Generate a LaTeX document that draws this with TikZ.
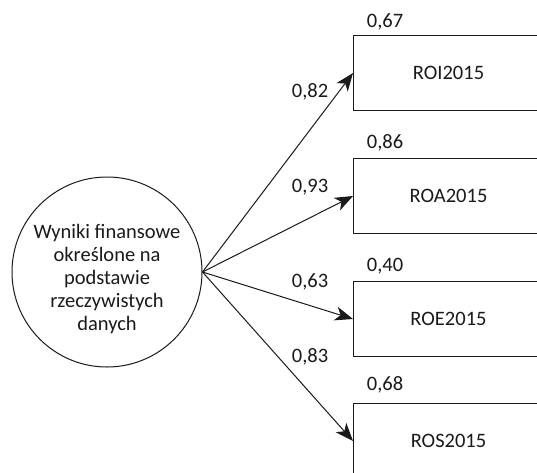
\documentclass[tikz,border=0pt]{standalone}
\usepackage{fontspec}
\setmainfont{Carlito}
\usetikzlibrary{arrows.meta}
\definecolor{ink}{HTML}{1A1A1A}
\begin{document}
\begin{tikzpicture}[x=1pt,y=-1pt,
  every node/.style={font=\fontsize{20.5}{23}\selectfont, text=ink, inner sep=0pt},
  latent/.style={circle, draw=ink, line width=1pt, minimum size=190pt},
  obs/.style={rectangle, draw=ink, line width=1pt, anchor=north west,
              minimum width=190pt, minimum height=75pt},
  arr/.style={draw=ink, line width=1pt, -{Stealth[length=18pt,width=14pt,inset=5pt]}},
  val/.style={anchor=center}]
\useasboundingbox (0,0) rectangle (537,472);
\fill[white] (0,0) rectangle (537,472);
\begin{scope}
\clip (0,0) rectangle (537,472);
% latent construct
\node[latent] (lat) at (107,272) {};
\node[align=center] (latText) at (107,279)
  {Wyniki finansowe\\określone na\\podstawie\\rzeczywistych\\danych};
% observed indicators
\node[obs] (roi) at (353,35)  {ROI2015};
\node[obs] (roa) at (353,158) {ROA2015};
\node[obs] (roe) at (353,281) {ROE2015};
\node[obs] (ros) at (353,403) {ROS2015};
\end{scope}
% loadings
\draw[arr] (lat.east) -- (roi.west);
\draw[arr] (lat.east) -- (roa.west);
\draw[arr] (lat.east) -- (roe.west);
\draw[arr] (lat.east) -- (ros.west);
\node[val] (l1) at (310,92)  {0,82};
\node[val] (l2) at (310,187) {0,93};
\node[val] (l3) at (310,282) {0,63};
\node[val] (l4) at (310,357) {0,83};
% explained variance
\node[val] (r1) at (385,22)  {0,67};
\node[val] (r2) at (385,143) {0,86};
\node[val] (r3) at (385,266) {0,40};
\node[val] (r4) at (385,385) {0,68};
\end{tikzpicture}
\end{document}
